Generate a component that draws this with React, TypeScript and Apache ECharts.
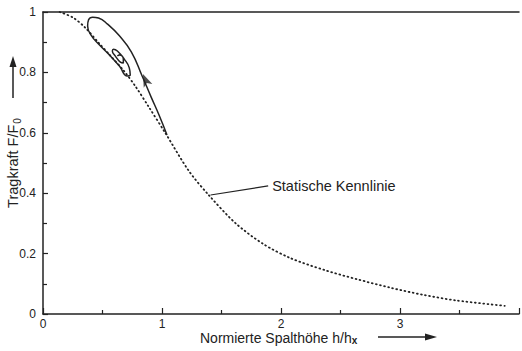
import React, { useEffect, useRef } from "react";
import * as echarts from "echarts";

// Static load characteristic (dotted curve): normalized gap height vs. normalized load
const staticX = [0.14, 0.25, 0.35, 0.475, 0.56, 0.68, 0.78, 0.89, 1.03, 1.225, 1.39, 1.62, 1.85, 2.08, 2.37, 2.64, 2.92, 3.2, 3.47, 3.88];
const staticY = [1.0, 0.982, 0.95, 0.895, 0.858, 0.805, 0.752, 0.685, 0.598, 0.474, 0.395, 0.3, 0.232, 0.185, 0.145, 0.115, 0.087, 0.063, 0.045, 0.027];

// Dynamic trajectory spiralling into the operating point
const pathX = [1.042, 0.975, 0.908, 0.833, 0.742, 0.642, 0.542, 0.467, 0.417, 0.383, 0.375, 0.408, 0.475, 0.558, 0.642, 0.708, 0.733, 0.725, 0.683, 0.625, 0.592, 0.583, 0.608, 0.65, 0.675, 0.675, 0.642, 0.625];
const pathY = [0.593, 0.659, 0.719, 0.788, 0.868, 0.921, 0.96, 0.98, 0.983, 0.974, 0.954, 0.921, 0.891, 0.858, 0.821, 0.788, 0.791, 0.815, 0.844, 0.871, 0.877, 0.871, 0.854, 0.834, 0.831, 0.844, 0.858, 0.854];

// Direction arrow on the trajectory
const arrowPoint = [0.84, 0.795];

// Leader line to the curve label
const leaderX = [1.408, 1.892];
const leaderY = [0.394, 0.424];
const curveLabel = "Statische Kennlinie";

const xTicks = [0, 1, 2, 3];
const yTicks = [0, 0.2, 0.4, 0.6, 0.8, 1];

const INK = "#222";
const FONT = "Liberation Sans, Arial, sans-serif";

export default function App() {
  const ref = useRef<HTMLDivElement>(null);

  useEffect(() => {
    if (!ref.current) return;
    const chart = echarts.init(ref.current, null, { renderer: "svg" });
    const zip = (xs: number[], ys: number[]) => xs.map((x, i) => [x, ys[i]]);

    chart.setOption({
      animation: false,
      backgroundColor: "#fff",
      textStyle: { fontFamily: FONT, color: INK },
      grid: { left: 43, right: 0, top: 12, bottom: 37 },
      xAxis: [
        {
          type: "value",
          min: 0,
          max: 4,
          interval: 1,
          axisLine: { show: true, lineStyle: { color: INK, width: 1.5 } },
          axisTick: { show: true, inside: true, length: 6, lineStyle: { color: INK, width: 1.2 } },
          minorTick: { show: true, splitNumber: 2, length: 4, lineStyle: { color: INK, width: 1.2 } },
          splitLine: { show: false },
          axisLabel: {
            color: INK,
            fontSize: 12,
            lineHeight: 12,
            fontFamily: FONT,
            margin: 4,
            formatter: (v: number) => (xTicks.includes(v) ? String(v) : ""),
          },
        },
        {
          type: "value",
          position: "top",
          min: 0,
          max: 4,
          axisLine: { show: true, lineStyle: { color: INK, width: 1.5 } },
          axisTick: { show: false },
          axisLabel: { show: false },
          splitLine: { show: false },
        },
      ],
      yAxis: {
        type: "value",
        min: 0,
        max: 1,
        interval: 0.2,
        axisLine: { show: true, lineStyle: { color: INK, width: 1.5 } },
        axisTick: { show: true, inside: true, length: 5, lineStyle: { color: INK, width: 1.2 } },
        minorTick: { show: true, splitNumber: 2, length: 4, lineStyle: { color: INK, width: 1.2 } },
        splitLine: { show: false },
        axisLabel: {
          color: INK,
          fontSize: 12,
          fontFamily: FONT,
          margin: 7,
          formatter: (v: number) => {
            const t = yTicks.find((k) => Math.abs(k - v) < 1e-9);
            return t === undefined ? "" : String(t);
          },
        },
      },
      series: [
        {
          type: "line",
          data: zip(staticX, staticY),
          smooth: 0.3,
          showSymbol: false,
          lineStyle: { color: INK, width: 1.8, type: [0.8, 3.4], cap: "round" },
        },
        {
          type: "line",
          data: zip(pathX, pathY),
          smooth: 0.5,
          showSymbol: false,
          lineStyle: { color: INK, width: 1.5 },
        },
        {
          type: "scatter",
          data: [arrowPoint],
          symbol: "arrow",
          symbolSize: [7, 13],
          symbolRotate: 23,
          itemStyle: { color: INK },
        },
        {
          type: "line",
          data: zip(leaderX, leaderY),
          showSymbol: false,
          lineStyle: { color: INK, width: 1.2 },
          endLabel: {
            show: true,
            formatter: curveLabel,
            color: INK,
            fontSize: 14.5,
            fontFamily: FONT,
            distance: 4,
          },
        },
      ],
      graphic: [
        {
          type: "text",
          x: 13,
          y: 163,
          rotation: Math.PI / 2,
          style: {
            text: "{a|Tragkraft F/F}{b|0}",
            align: "center",
            verticalAlign: "middle",
            fill: INK,
            rich: {
              a: { fontSize: 14.5, fontFamily: FONT, fill: INK, lineHeight: 18 },
              b: { fontSize: 10, fontFamily: FONT, fill: INK, lineHeight: 18, verticalAlign: "bottom", padding: [6, 0, 0, 1] },
            },
          },
        },
        {
          type: "line",
          shape: { x1: 13, y1: 98, x2: 13, y2: 66 },
          style: { stroke: INK, lineWidth: 1.5 },
        },
        {
          type: "polygon",
          shape: { points: [[13, 56], [9.5, 67], [16.5, 67]] },
          style: { fill: INK },
        },
        {
          type: "text",
          x: 200,
          y: 338,
          style: {
            text: "{a|Normierte Spalthöhe h/h}{b|x}",
            align: "left",
            verticalAlign: "middle",
            fill: INK,
            rich: {
              a: { fontSize: 14, fontFamily: FONT, fill: INK, lineHeight: 14 },
              b: { fontSize: 10, fontFamily: FONT, fill: INK, fontWeight: "bold", lineHeight: 14, verticalAlign: "bottom", padding: [5, 0, 0, 0] },
            },
          },
        },
        {
          type: "line",
          shape: { x1: 378, y1: 337, x2: 426, y2: 337 },
          style: { stroke: INK, lineWidth: 1.5 },
        },
        {
          type: "polygon",
          shape: { points: [[437, 337], [425, 333.5], [425, 340.5]] },
          style: { fill: INK },
        },
      ],
    });

    return () => chart.dispose();
  }, []);

  return (
    <div
      ref={ref}
      style={{ position: "fixed", left: 0, top: 0, width: 522, height: 351 }}
    />
  );
}
